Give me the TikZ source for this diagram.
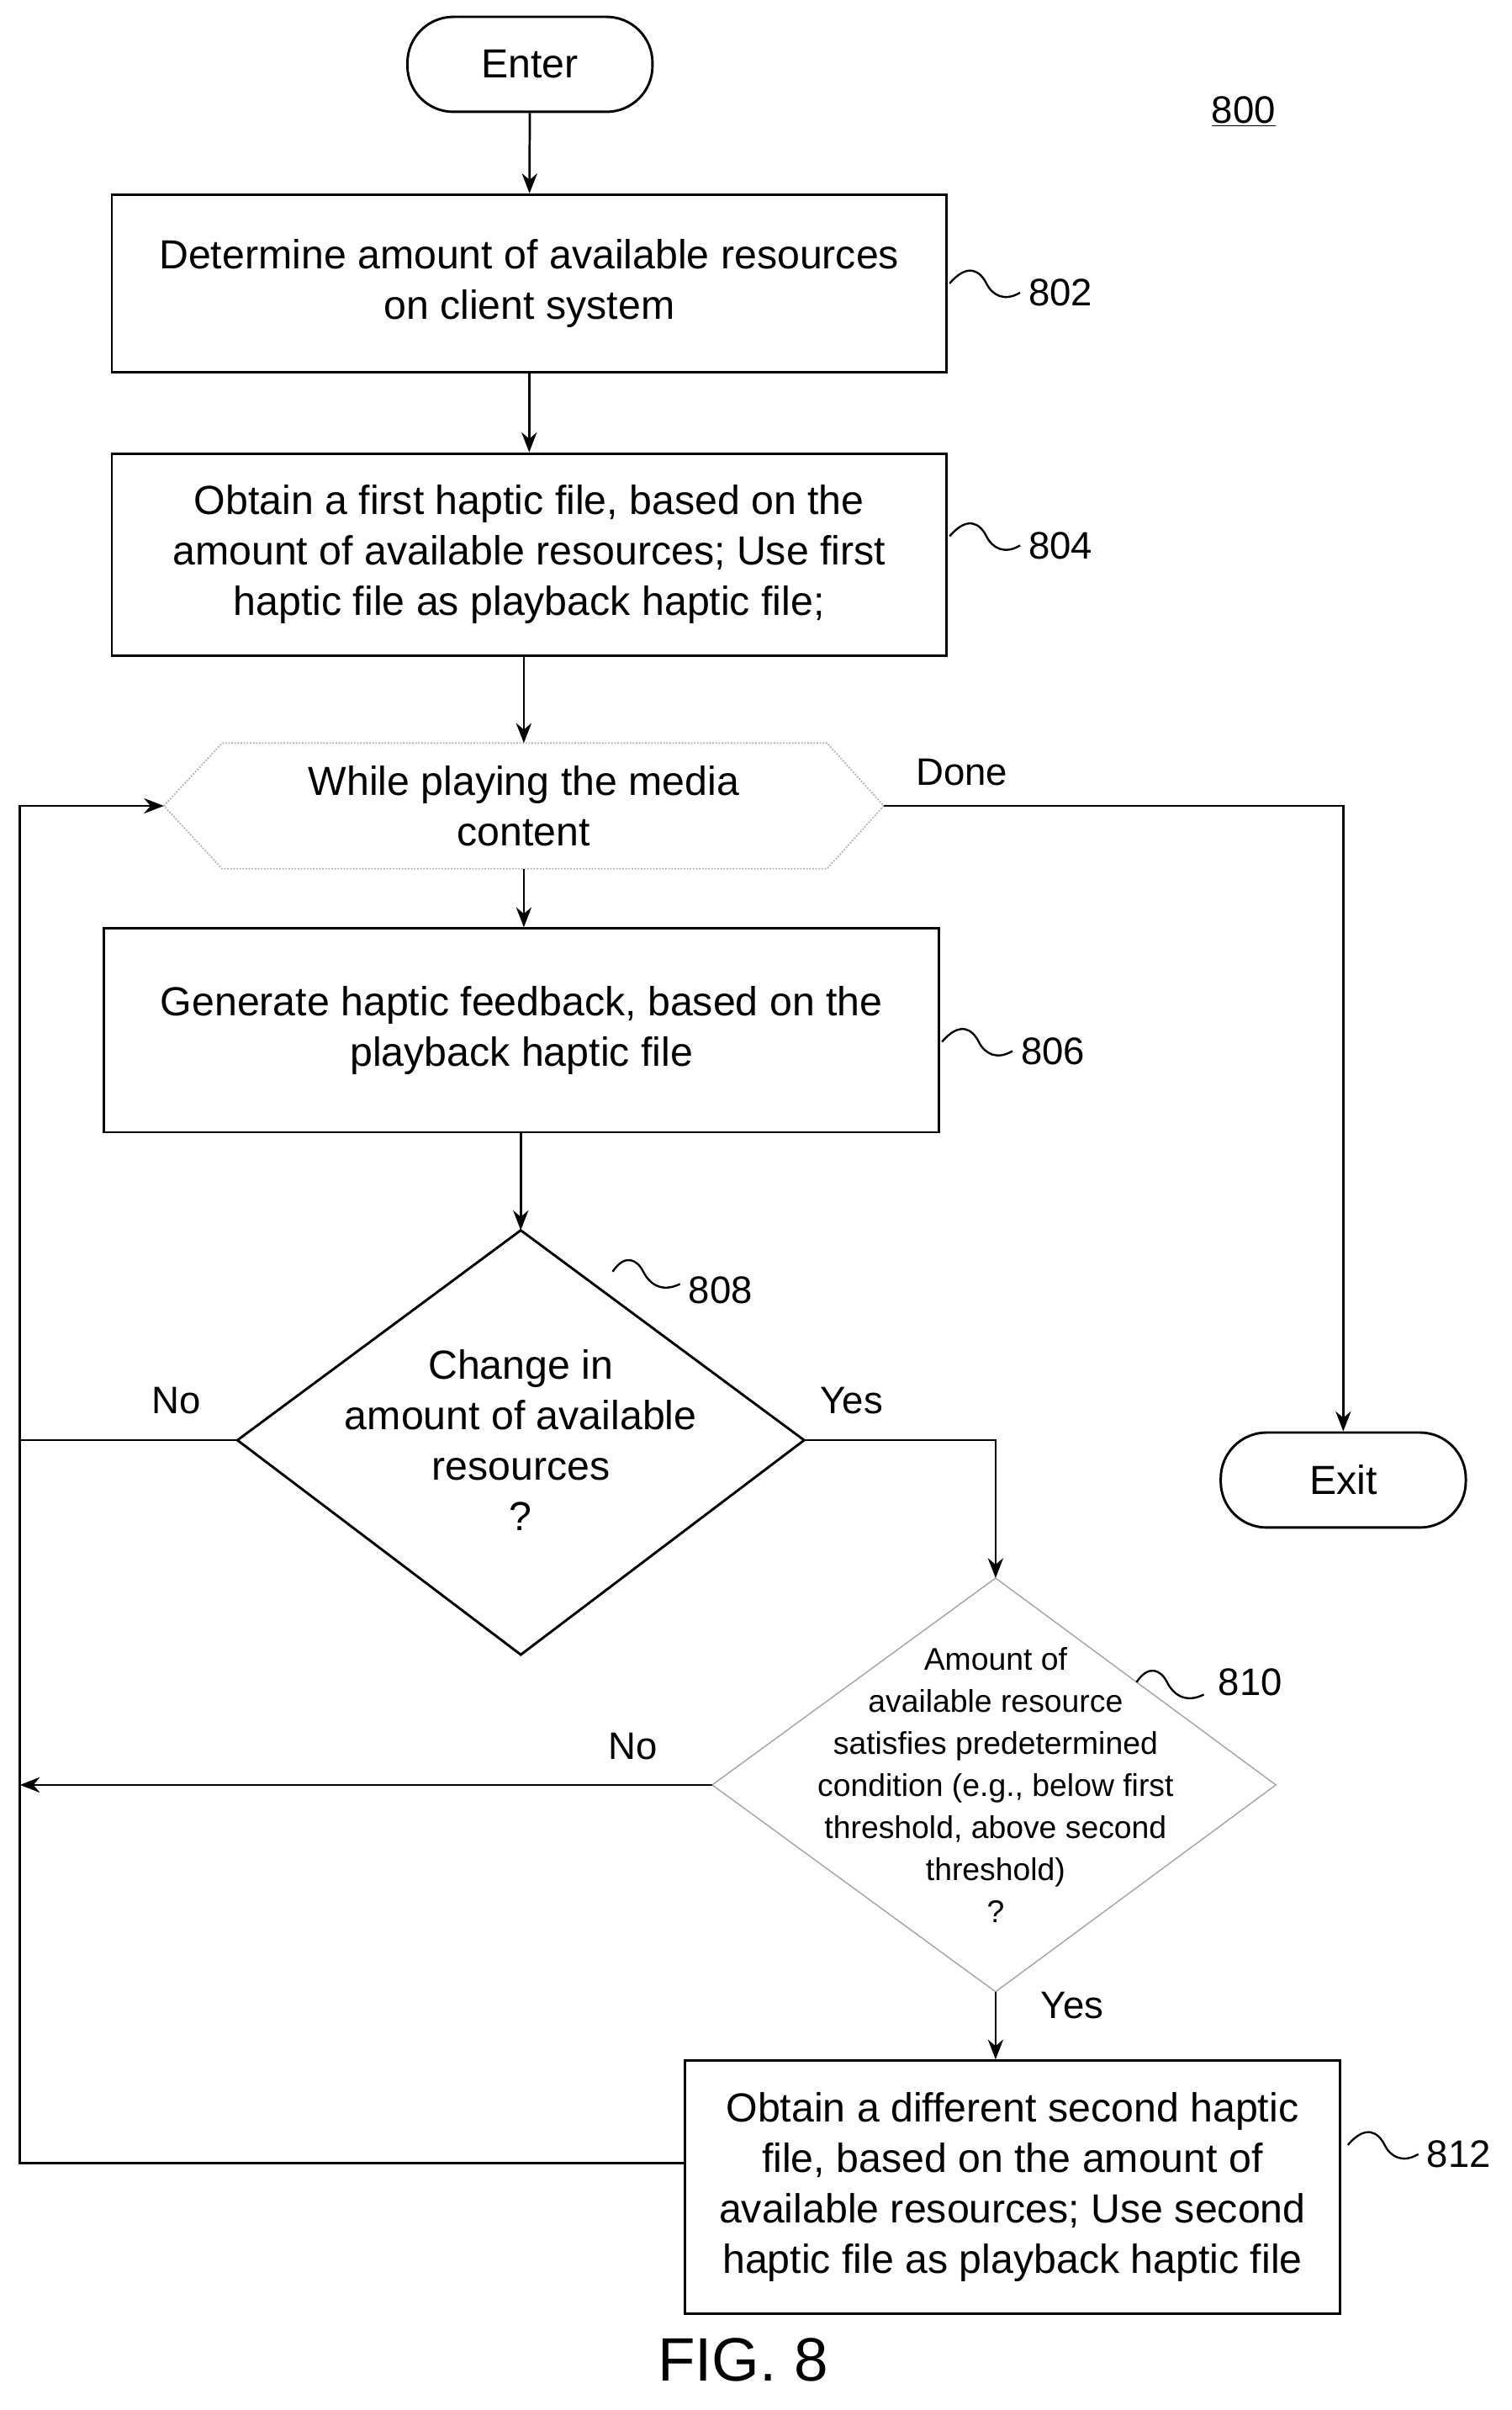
\documentclass[tikz,border=0pt]{standalone}
\usepackage{fontspec}
\setmainfont{Liberation Sans}
\usetikzlibrary{shapes.geometric,arrows.meta}
\begin{document}
\begin{tikzpicture}[x=1pt,y=-1pt,
  txt/.style={font=\fontsize{26.5}{33}\selectfont,align=center},
  box/.style={draw,line width=1.6pt,txt},
  term/.style={draw,line width=1.6pt,rounded corners=30pt,txt,minimum width=160pt,minimum height=62pt},
  lbl/.style={font=\fontsize{25}{28}\selectfont},
  ar/.style={line width=1.5pt,-{Stealth[length=13pt,width=10pt]}},
  ln/.style={line width=1.5pt}]
\useasboundingbox (0,0) rectangle (987,1573);
\fill[white] (0,0) rectangle (987,1573);
\node[term] (enter) at (346,42) {Enter};
\node[lbl] (n800) at (812,73) {\underline{800}};
\node[box,minimum width=545pt,minimum height=116pt] (b802) at (345.5,185) {Determine amount of available resources\\on client system};
\node[box,minimum width=545pt,minimum height=132pt] (b804) at (345.5,362) {Obtain a first haptic file, based on the\\amount of available resources; Use first\\haptic file as playback haptic file;};
\draw[draw=gray!60,densely dotted,line width=1pt] (107,526) -- (145,485) -- (540,485) -- (577,526) -- (540,567) -- (145,567) -- cycle;
\node[txt] (hex) at (342,526) {While playing the media\\content};
\coordinate (hl) at (107,526); \coordinate (hr) at (577,526);
\coordinate (ht) at (342,485); \coordinate (hb) at (342,567);
\node[box,minimum width=545pt,minimum height=133pt] (b806) at (340.5,672.5) {Generate haptic feedback, based on the\\playback haptic file};
\draw[line width=1.6pt] (340,803) -- (525,940) -- (340,1080) -- (155,940) -- cycle;
\node[txt] (d808) at (340,940) {Change in\\amount of available\\resources\\?};
\coordinate (d8t) at (340,803); \coordinate (d8l) at (155,940); \coordinate (d8r) at (525,940);
\draw[draw=gray!70,line width=0.8pt] (650,1030) -- (833,1165) -- (650,1300) -- (465,1165) -- cycle;
\node[font=\fontsize{20.5}{27.5}\selectfont,align=center] (d810) at (650,1165) {Amount of\\available resource\\satisfies predetermined\\condition (e.g., below first\\threshold, above second\\threshold)\\?};
\coordinate (d10t) at (650,1030); \coordinate (d10l) at (465,1165); \coordinate (d10b) at (650,1300);
\node[box,minimum width=428pt,minimum height=165pt] (b812) at (661,1427.5) {Obtain a different second haptic\\file, based on the amount of\\available resources; Use second\\haptic file as playback haptic file};
\coordinate (b812l) at (447,1412);
\node[term] (exit) at (877,966) {Exit};
\foreach \x/\y/\t in {620/185/802,620/350/804,615/680/806,880/1400/812}{
  \draw[line width=1.3pt] (\x,\y) .. controls (\x+12,\y-14) and (\x+20,\y-8) .. (\x+24,\y) .. controls (\x+28,\y+8) and (\x+36,\y+12) .. (\x+46,\y+6);
  \node[lbl,anchor=west] at (\x+48,\y+6) {\t};}
\draw[line width=1.3pt] (400,830) .. controls (408,818) and (416,822) .. (420,830) .. controls (424,838) and (432,844) .. (444,838);
\node[lbl,anchor=west] at (446,842) {808};
\draw[line width=1.3pt] (742,1098) .. controls (750,1086) and (758,1090) .. (762,1098) .. controls (766,1106) and (774,1112) .. (786,1106);
\node[lbl,anchor=west] at (792,1098) {810};
\draw[ar] (enter) -- (b802);
\draw[ar] (b802) -- (b804);
\draw[ar] (b804.south -| ht) -- (ht);
\draw[ar] (hb) -- (b806.north -| hb);
\draw[ar] (b806.south -| d8t) -- (d8t);
\draw[ar] (hr) -- (877,526) -- (exit.north);
\node[lbl] at (628,504) {Done};
\draw[ar] (d8r) -- (650,940) -- (d10t);
\node[lbl] at (556,914) {Yes};
\draw[ar] (d8l) -- (13,940) -- (13,526) -- (hl);
\node[lbl] at (115,914) {No};
\draw[ar] (d10l) -- (13,1165);
\node[lbl] at (413,1140) {No};
\draw[ar] (d10b) -- (b812.north -| d10b);
\node[lbl] at (700,1309) {Yes};
\draw[ln] (b812l) -- (13,1412) -- (13,940);
\node[font=\fontsize{40}{44}\selectfont] (fig) at (485,1540) {FIG. 8};
\end{tikzpicture}
\end{document}
